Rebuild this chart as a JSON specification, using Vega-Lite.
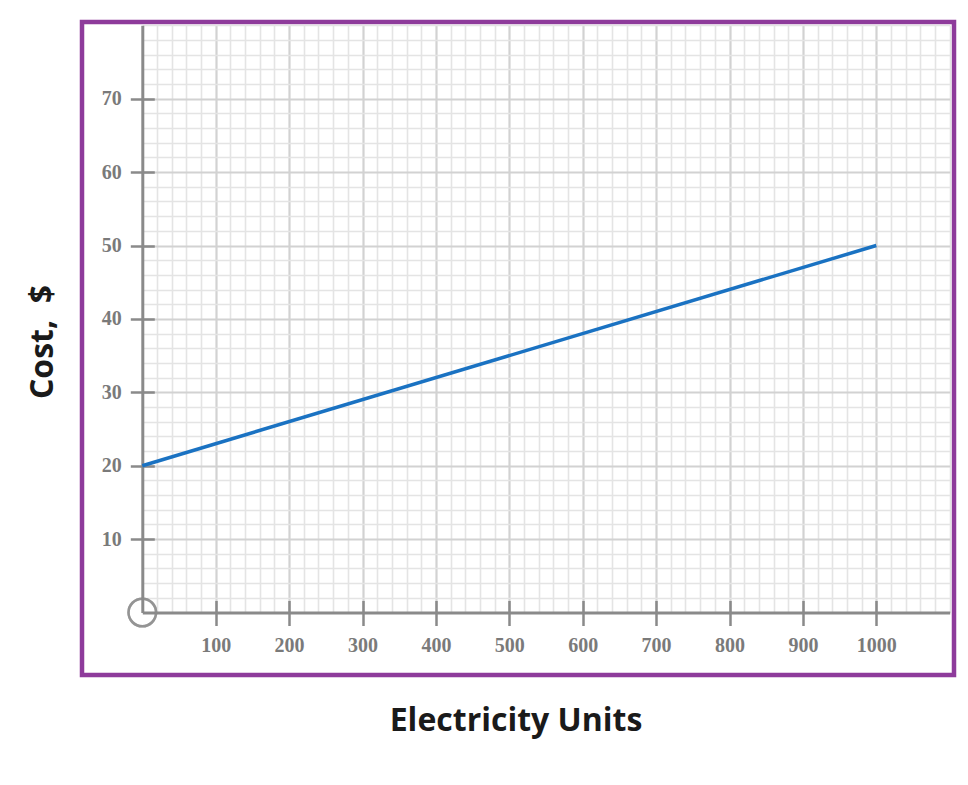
{
  "$schema": "https://vega.github.io/schema/vega-lite/v6.json",
  "width": 872,
  "height": 653,
  "autosize": {"type": "none"},
  "padding": {"left": 82, "top": 22, "right": 14, "bottom": 110},
  "background": "white",
  "config": {
    "view": {"stroke": "#8e3b9b", "strokeWidth": 4.5},
    "axis": {"labelFont": "Liberation Serif", "titleFont": "Open Sans"}
  },
  "data": {"values": [{"units": 0, "cost": 20}, {"units": 1000, "cost": 50}]},
  "resolve": {"scale": {"y": "independent"}, "axis": {"x": "independent", "y": "independent"}},
  "layer": [
    {
      "mark": {"type": "point", "opacity": 0},
      "encoding": {
        "x": {
          "datum": 0, "type": "quantitative",
          "scale": {"domain": [0, 1100], "range": [60.3, 867.7], "nice": false, "zero": false},
          "axis": {"orient": "bottom", "offset": -62.5, "title": null, "values": [20,40,60,80,120,140,160,180,220,240,260,280,320,340,360,380,420,440,460,480,520,540,560,580,620,640,660,680,720,740,760,780,820,840,860,880,920,940,960,980,1020,1040,1060,1080,1100],
                   "grid": true, "gridColor": "#e4e4e4", "gridWidth": 1.6, "labels": false, "ticks": false, "domain": false, "zindex": 0}
        },
        "y": {
          "datum": 0, "type": "quantitative",
          "scale": {"domain": [0, 80], "range": [649.7, 62.5], "nice": false, "zero": false},
          "axis": null
        }
      }
    },
    {
      "mark": {"type": "point", "opacity": 0},
      "encoding": {
        "x": {
          "datum": 0, "type": "quantitative",
          "scale": {"domain": [0, 1100], "range": [60.3, 867.7], "nice": false, "zero": false},
          "axis": null
        },
        "y": {
          "datum": 0, "type": "quantitative",
          "scale": {"domain": [0, 80], "range": [590.5, 3.3], "nice": false, "zero": false},
          "axis": {"orient": "left", "offset": -60.3, "title": null, "values": [2,4,6,8,12,14,16,18,22,24,26,28,32,34,36,38,42,44,46,48,52,54,56,58,62,64,66,68,72,74,76,78,80],
                   "grid": true, "gridColor": "#e4e4e4", "gridWidth": 1.6, "labels": false, "ticks": false, "domain": false, "zindex": 0}
        }
      }
    },
    {
      "mark": {"type": "point", "opacity": 0},
      "encoding": {
        "x": {
          "datum": 0, "type": "quantitative",
          "scale": {"domain": [0, 1100], "range": [60.3, 867.7], "nice": false, "zero": false},
          "axis": {"orient": "bottom", "offset": -62.5, "values": [100,200,300,400,500,600,700,800,900,1000], "format": "d",
                   "grid": true, "gridColor": "#d2d2d2", "gridWidth": 2.2,
                   "domain": true, "domainColor": "#8a8a8a", "domainWidth": 3,
                   "ticks": true, "tickColor": "#8a8a8a", "tickWidth": 2.5, "tickSize": 13,
                   "labelFontSize": 20, "labelFontWeight": "bold", "labelColor": "#7a7a7a", "labelBaseline": "middle", "labelPadding": 20,
                   "title": "Electricity Units", "titleFontSize": 32, "titleFontWeight": "bold", "titleColor": "#1a1a1a",
                   "titleX": 433.5, "titleY": 117.5, "titleBaseline": "alphabetic", "titleAlign": "center", "zindex": 0}
        },
        "y": {
          "datum": 0, "type": "quantitative",
          "scale": {"domain": [0, 80], "range": [649.7, 62.5], "nice": false, "zero": false},
          "axis": null
        }
      }
    },
    {
      "mark": {"type": "point", "opacity": 0},
      "encoding": {
        "x": {
          "datum": 0, "type": "quantitative",
          "scale": {"domain": [0, 1100], "range": [60.3, 867.7], "nice": false, "zero": false},
          "axis": null
        },
        "y": {
          "datum": 0, "type": "quantitative",
          "scale": {"domain": [0, 80], "range": [590.5, 3.3], "nice": false, "zero": false},
          "axis": {"orient": "left", "offset": -60.3, "values": [10,20,30,40,50,60,70],
                   "grid": true, "gridColor": "#d2d2d2", "gridWidth": 2.2,
                   "domain": true, "domainColor": "#8a8a8a", "domainWidth": 3,
                   "ticks": true, "tickColor": "#8a8a8a", "tickWidth": 2.5, "tickSize": 12,
                   "labelFontSize": 20, "labelFontWeight": "bold", "labelColor": "#7a7a7a", "labelPadding": 9,
                   "title": "Cost,\u00a0\u00a0$", "titleFontSize": 32, "titleFontWeight": "bold", "titleColor": "#1a1a1a",
                   "titleX": -90.3, "titleY": 319.5, "titleAngle": -90, "titleBaseline": "alphabetic", "titleAlign": "center", "zindex": 0}
        }
      }
    },
    {
      "mark": {"type": "point", "opacity": 0},
      "encoding": {
        "x": {
          "datum": 0, "type": "quantitative",
          "scale": {"domain": [0, 1100], "range": [60.3, 867.7], "nice": false, "zero": false},
          "axis": {"orient": "bottom", "offset": -62.5, "title": null, "values": [100,200,300,400,500,600,700,800,900,1000],
                   "grid": false, "labels": false, "domain": false, "ticks": true, "tickColor": "#8a8a8a", "tickWidth": 2.5, "tickSize": -12, "zindex": 0}
        },
        "y": {
          "datum": 0, "type": "quantitative",
          "scale": {"domain": [0, 80], "range": [590.5, 3.3], "nice": false, "zero": false},
          "axis": {"orient": "left", "offset": -60.3, "title": null, "values": [10,20,30,40,50,60,70],
                   "grid": false, "labels": false, "domain": false, "ticks": true, "tickColor": "#8a8a8a", "tickWidth": 2.5, "tickSize": -12, "zindex": 0}
        }
      }
    },
    {
      "mark": {"type": "line", "color": "#1a72c2", "strokeWidth": 3.5},
      "encoding": {
        "x": {
          "field": "units", "type": "quantitative",
          "scale": {"domain": [0, 1100], "range": [60.3, 867.7], "nice": false, "zero": false},
          "axis": null
        },
        "y": {
          "field": "cost", "type": "quantitative",
          "scale": {"domain": [0, 80], "range": [590.5, 3.3], "nice": false, "zero": false},
          "axis": null
        }
      }
    },
    {
      "mark": {"type": "point", "shape": "circle", "filled": false, "size": 760, "stroke": "#8a8a8a", "strokeWidth": 2.5},
      "encoding": {
        "x": {
          "datum": 0, "type": "quantitative",
          "scale": {"domain": [0, 1100], "range": [60.3, 867.7], "nice": false, "zero": false},
          "axis": null
        },
        "y": {
          "datum": 0, "type": "quantitative",
          "scale": {"domain": [0, 80], "range": [590.5, 3.3], "nice": false, "zero": false},
          "axis": null
        }
      }
    }
  ]
}
